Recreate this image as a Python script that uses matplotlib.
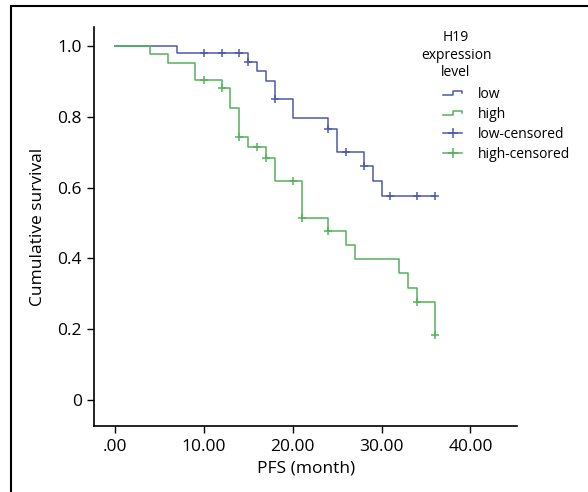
import numpy as np
import matplotlib
matplotlib.use("Agg")
import matplotlib.pyplot as plt
from matplotlib.lines import Line2D
from matplotlib.patches import Rectangle
from matplotlib.legend_handler import HandlerBase

plt.rcParams['font.family'] = ['Open Sans', 'DejaVu Sans']

# Kaplan-Meier steps (PFS in months)
low_t = [0, 7, 15, 16, 17, 18, 20, 24, 25, 28, 29, 30, 36]
low_s = [1.0, 0.98, 0.955, 0.93, 0.90, 0.85, 0.795, 0.765, 0.70, 0.66, 0.62, 0.577, 0.577]
high_t = [0, 4, 6, 9, 12, 13, 14, 15, 17, 18, 21, 24, 26, 27, 32, 33, 34, 36]
high_s = [1.0, 0.978, 0.953, 0.903, 0.88, 0.826, 0.743, 0.715, 0.684, 0.618,
          0.515, 0.477, 0.437, 0.398, 0.358, 0.317, 0.278, 0.183]

# censored observations
low_cens = [10, 12, 14, 15, 18, 24, 26, 28, 31, 34, 36]
high_cens = [10, 12, 14, 16, 17, 20, 21, 24, 34, 36]

x_ticks = [0, 10, 20, 30, 40]
x_labels = ['.00', '10.00', '20.00', '30.00', '40.00']
y_ticks = [0, 0.2, 0.4, 0.6, 0.8, 1.0]
y_labels = ['0', '0.2', '0.4', '0.6', '0.8', '1.0']

blue = '#4b5ba9'
green = '#55b25c'


def surv_at(times, surv, t):
    i = np.searchsorted(times, t, side='right') - 1
    return np.asarray(surv)[i]


class StepHandler(HandlerBase):
    def create_artists(self, legend, orig_handle, xdescent, ydescent,
                       width, height, fontsize, trans):
        x0 = -xdescent
        x1 = x0 + width
        xm = x0 + width * 0.5
        ylo = -ydescent + height * 0.3
        yhi = -ydescent + height * 0.75
        ln = Line2D([x0, xm, xm, x1, x1], [ylo, ylo, yhi, yhi, yhi - height * 0.25],
                    color=orig_handle.get_color(), lw=1.1)
        ln.set_transform(trans)
        return [ln]


fig = plt.figure(figsize=(5.88, 4.92), dpi=100)
ax = fig.add_axes([0.1607, 0.134, 0.718, 0.8117])

ax.step(low_t, low_s, where='post', color=blue, lw=1.1)
ax.step(high_t, high_s, where='post', color=green, lw=1.1)
ax.plot(low_cens, surv_at(low_t, low_s, low_cens), ls='none', marker='+',
        ms=5.5, mew=1.1, color=blue)
ax.plot(high_cens, surv_at(high_t, high_s, high_cens), ls='none', marker='+',
        ms=5.5, mew=1.1, color=green)

ax.set_xlim(-2.3, 45.2)
ax.set_ylim(-0.073, 1.054)
ax.set_xticks(x_ticks)
ax.set_xticklabels(x_labels)
ax.set_yticks(y_ticks)
ax.set_yticklabels(y_labels)
ax.tick_params(direction='out', length=5, width=1, labelsize=12.5, pad=4)
for side in ['top', 'right']:
    ax.spines[side].set_visible(False)
for side in ['left', 'bottom']:
    ax.spines[side].set_linewidth(1.2)

ax.set_xlabel('PFS (month)', fontsize=12.5, labelpad=4)
ax.set_ylabel('Cumulative survival', fontsize=12.5, labelpad=8)

# legend
h_low = Line2D([], [], color=blue)
h_high = Line2D([], [], color=green)
h_lowc = Line2D([], [], color=blue, marker='+', ms=7, mew=1.1, lw=1.1)
h_highc = Line2D([], [], color=green, marker='+', ms=7, mew=1.1, lw=1.1)
fig.legend([h_low, h_high, h_lowc, h_highc],
           ['low', 'high', 'low-censored', 'high-censored'],
           handler_map={h_low: StepHandler(), h_high: StepHandler()},
           loc='upper left', bbox_to_anchor=(443 / 588, 1 - 87 / 492),
           frameon=False, fontsize=10, borderpad=0, borderaxespad=0,
           handlelength=1.4, handletextpad=1.1, labelspacing=0.36, numpoints=1)
fig.text(456 / 588, 1 - 30 / 492, 'H19\nexpression\nlevel', ha='center', va='top',
         fontsize=10, linespacing=1.25)

# outer frame
fig.patches.append(Rectangle((11 / 588, -0.1), 1.2, 0.1 + 1 - 6 / 492,
                             transform=fig.transFigure, fill=False, lw=1.5,
                             edgecolor='black', clip_on=False))

fig.savefig('out.png', dpi=100)
